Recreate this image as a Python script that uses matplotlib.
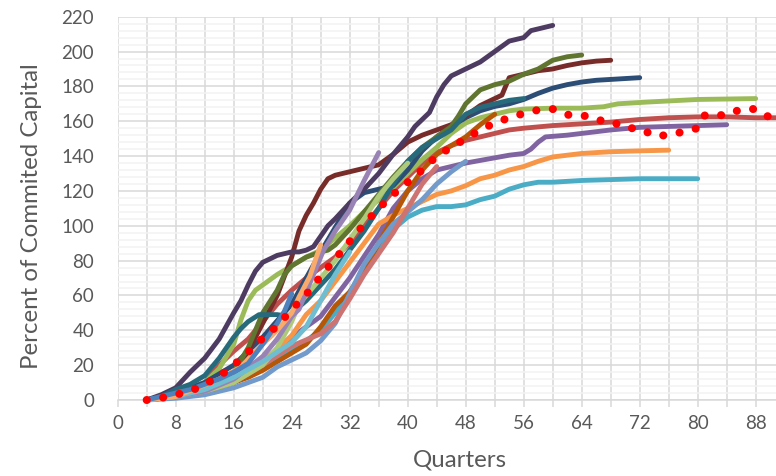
import matplotlib
matplotlib.use("Agg")
import matplotlib.pyplot as plt
from matplotlib.ticker import MultipleLocator

plt.rcParams['font.family'] = ['Lato', 'DejaVu Sans']

# ---- data (quarters, percent of committed capital) ----
red_x = [4,8,12,14,16,18,20,22,24,26,28,30,32,34,36,38,40,42,44,46,48,50,52,54,56,60,64,68,72,76,80,84,88,92]
red_y = [0,3,10,20,28,35,45,55,63,70,76,82,90,100,110,120,128,136,142,146,149,151,153,155,156,157.5,158.5,159.5,161,162,162.5,162.5,162,162]

green_x = [4,8,12,14,16,17,18,19,20,22,24,26,28,30,32,34,36,38,40,42,44,46,48,50,52,54,56,60,64,67,69,73,80,88]
green_y = [0,4,10,18,32,46,57,63,66,72,77,82,86,93,100,108,115,122,130,138,145,153,159,162,164,166,167,167.5,167.5,168.3,170,171,172.5,173]

purple_x = [4,8,12,16,20,24,28,32,36,38,40,42,44,46,48,50,52,54,56,57,58,59,62,64,68,72,76,80,84]
purple_y = [0,2,5,12,22,36,48,70,95,110,120,127,132,134,136,137.5,139,140.5,141.5,144,148,151,152,153,155,156.5,157,157.5,158]

aqua_x = [4,8,12,16,20,24,28,30,32,34,36,38,40,42,44,46,48,50,52,54,56,58,60,64,72,80]
aqua_y = [0,2,5,10,18,28,40,50,62,75,88,98,105,109,111,111,112,115,117,121,123.5,125,125,126,127,127]

orange_x = [4,8,12,16,20,24,26,28,30,32,34,36,38,40,42,44,46,48,50,52,54,56,58,60,64,68,72,76]
orange_y = [0,2,5,12,22,37,49,57,68,79,90,101,106,110,114,118,120,123,127,129,132,134,137,139.5,141.5,142.5,143,143.4]

dblue_x = [4,8,12,16,20,24,26,28,30,32,34,36,38,40,42,44,46,48,50,52,54,56,58,60,62,64,66,68,72]
dblue_y = [0,4,10,20,36,55,70,85,99,113,119,121,123,132,143,151,157,162,166,168.5,170,172.5,176,179,181,182.5,183.5,184,185]

dred_x = [4,8,12,16,17,18,19,20,22,24,25,26,27,28,29,30,32,34,36,38,40,42,44,46,48,50,52,53,54,56,58,60,62,64,66,68]
dred_y = [0,3,6,12,17,28,36,44,60,82,97,106,113,121,127,129,131,133,135,141,148,152,155,158,163,169,173,175,185,187,189,190,192,193.5,194.5,195]

dgreen_x = [4,8,12,16,18,19,20,22,23,24,26,28,29,30,32,34,36,38,40,42,44,46,47,48,50,52,54,56,58,60,62,64]
dgreen_y = [0,3,8,16,30,40,50,63,72,77,82,85,86,89,98,108,118,128,137,145,151,157,163,170,178,181,183,187,190,195,197,198]

dpurple_x = [4,6,8,10,12,14,16,17,18,19,20,21,22,23,24,25,26,27,28,29,30,32,34,36,38,40,41,42,43,44,45,46,48,50,52,54,56,57,58,60]
dpurple_y = [0,3,7,16,24,35,50,57,66,74,79,81,83,84,85,85,86,88,94,100,104,113,121,130,141,151,157,161,165,174,181,186,190,194,200,206,208,212,213,215]

daqua_x = [4,6,8,10,12,14,16,17,18,19.5,22,23.5,26,28,30,32,34,36,38,40,42,44,46,48,50,52,54,56]
daqua_y = [0,2,6,9,14,24,36,41,45,49,49,48,57,66,75,86,97,110,124,137,145,150,155,164,168,170,172,173]

dorange_x = [4,8,12,16,18,20,22,24,26,28,30,32,34,36,38,40,42,44,46,48,50,52]
dorange_y = [0,2,5,10,13,17,22,27,32,42,54,62,74,90,105,120,132,141,146,151,158,164]

lblue_x = [4,8,12,16,18,20,22,24,26,28,30,32,34,36,38,40,42,44,46,48]
lblue_y = [0,1,3,7,10,13,19,23,27,34,44,61,78,90,101,108,115,124,131,137]

lred_x = [4,8,12,16,20,24,28,30,32,34,36,38,40,42,44]
lred_y = [0,2,5,10,20,31,38,45,58,72,84,96,110,124,134]

lgreen_x = [4,8,12,16,20,22,24,25,26,28,30,32,34,36,38,40]
lgreen_y = [0,2,5,10,20,30,45,55,60,70,80,92,104,117,127,136]

lpurple_x = [4,8,12,16,20,22,24,25,26.5,28.4,29.3,30,32,34,36]
lpurple_y = [0,2,5,12,25,35,48,52,67,86,92,97,109,126,142]

laqua_x = [4,8,12,16,20,24,26,28,30,32]
laqua_y = [0,2,6,13,22,33,42,57,72,85]

lorange_x = [4,8,11,14,17,19,22,24,25,26.5,27.4,28]
lorange_y = [0,2,7,12,19,28,40,50,59,71,82,89]

blue_x = [4,6,8,10,12,14,16,18,20,22,23,24]
blue_y = [0,2,4,6,9,12,16,21,32,44,51,61]

avg_x = [4,6,8,10,12,14,16,18,20,22,24,26,28,30,32,34,36,38,40,42,44,46,48,50,52,54,56,58,60,62,64,66,68,70,72,74,76,78,80,81,84,86,88,90]
avg_y = [0,1.2,3,5,9,13.5,20,27.5,35.5,42.5,52,60.5,71,81,91,101,110,118,125,132,140,145,150,155,159,162,164.5,166.5,167,163.7,163.7,160.6,160.2,156,156,151.6,152,154,156,163.5,163.5,167,167,162]

series = [
    (red_x, red_y, '#C0504D'),
    (green_x, green_y, '#9BBB59'),
    (purple_x, purple_y, '#8064A2'),
    (aqua_x, aqua_y, '#4BACC6'),
    (orange_x, orange_y, '#F79646'),
    (dblue_x, dblue_y, '#2C4D75'),
    (dred_x, dred_y, '#772C2A'),
    (dgreen_x, dgreen_y, '#5F7530'),
    (dpurple_x, dpurple_y, '#4D3B62'),
    (daqua_x, daqua_y, '#276A7C'),
    (dorange_x, dorange_y, '#B65708'),
    (lblue_x, lblue_y, '#729ACA'),
    (lred_x, lred_y, '#CD7371'),
    (lgreen_x, lgreen_y, '#AFC97A'),
    (lpurple_x, lpurple_y, '#9983B5'),
    (laqua_x, laqua_y, '#6FBDD1'),
    (lorange_x, lorange_y, '#F9AB6B'),
    (blue_x, blue_y, '#4F81BD'),
]

fig = plt.figure(figsize=(7.76, 4.76), dpi=100)
W, H = 776.0, 476.0
x0, x1 = 117.7, 117.7 + 92 * 7.25
y_top, y_bot = 16.7, 400.0
ax = fig.add_axes([x0 / W, 1 - y_bot / H, (x1 - x0) / W, (y_bot - y_top) / H])

for i, (xs, ys, c) in enumerate(series):
    ax.plot(xs, ys, color=c, lw=3.5, solid_capstyle='round', solid_joinstyle='round',
            clip_on=False, zorder=3 + i * 0.01)

ax.plot(avg_x, avg_y, color='#FF0000', lw=5.8, linestyle=(0, (0.01, 2.05)),
        dash_capstyle='round', clip_on=False, zorder=5)

ax.set_xlim(0, 92)
ax.set_ylim(0, 220)
ax.xaxis.set_major_locator(MultipleLocator(8))
ax.xaxis.set_minor_locator(MultipleLocator(4))
ax.yaxis.set_major_locator(MultipleLocator(20))
ax.yaxis.set_minor_locator(MultipleLocator(4))

ax.grid(which='major', axis='y', color='#D9D9D9', lw=1.1, zorder=0)
ax.grid(which='minor', axis='y', color='#F2F2F2', lw=1.1, zorder=0)
ax.grid(which='both', axis='x', color='#D9D9D9', lw=1.1, zorder=0)
ax.set_axisbelow(True)

for s in ['top', 'right', 'left']:
    ax.spines[s].set_visible(False)
ax.spines['bottom'].set_color('#D9D9D9')
ax.spines['bottom'].set_linewidth(1.1)

ax.tick_params(axis='x', which='both', length=5, width=1.1, color='#D9D9D9',
               direction='out', labelsize=13.5, labelcolor='#595959', pad=6)
ax.tick_params(axis='y', which='both', length=0, labelsize=13.5, labelcolor='#595959', pad=17)

ax.set_xlabel('Quarters', fontsize=17.3, color='#595959')
ax.set_ylabel('Percent of Commited Capital', fontsize=17.3, color='#595959')
ax.xaxis.set_label_coords(((460.3 - x0) / (x1 - x0)), -0.13)
ax.yaxis.set_label_coords(-0.113, 0.48)

fig.savefig('out.png', dpi=100)
